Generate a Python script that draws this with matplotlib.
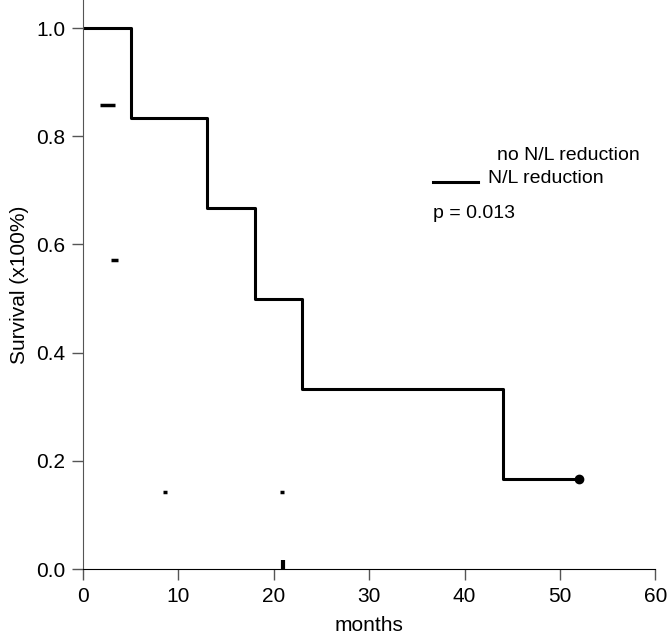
import matplotlib
matplotlib.use('Agg')
from matplotlib import pyplot as plt

plt.rcParams['font.family'] = ['Liberation Sans', 'DejaVu Sans']

# N/L reduction survival curve (step after each time)
times = [0, 5, 13, 18, 23, 44, 52]
survival = [1.0, 0.833, 0.667, 0.5, 0.333, 0.167, 0.167]

# small leftover marks of the other curve
mark_x0 = [1.8, 2.9, 8.4, 20.7]
mark_x1 = [3.3, 3.7, 8.8, 21.1]
mark_y = [0.857, 0.572, 0.143, 0.143]
vmark_x = 21.0
vmark_y = [0.0, 0.017]

xticks = [0, 10, 20, 30, 40, 50, 60]
yticks = [0.0, 0.2, 0.4, 0.6, 0.8, 1.0]

fig = plt.figure(figsize=(6.7, 6.43), dpi=100)
ax = fig.add_axes([0.124, 0.115, 0.854, 0.885])

ax.step(times, survival, where='post', color='black', linewidth=2.2)
ax.plot(times[-1], survival[-1], 'ko', markersize=6)

for a, b, y in zip(mark_x0, mark_x1, mark_y):
    ax.plot([a, b], [y, y], color='black', linewidth=2.5, solid_capstyle='butt')
ax.plot([vmark_x, vmark_x], vmark_y, color='black', linewidth=3, solid_capstyle='butt')

ax.set_xlim(0, 60)
ax.set_ylim(0, 1.052)
ax.set_xticks(xticks)
ax.set_yticks(yticks)
ax.set_xticklabels([str(t) for t in xticks])
ax.set_yticklabels([f'{t:.1f}' for t in yticks])
ax.tick_params(labelsize=15, length=8, width=1, color='#555555', direction='out', pad=5)

for s in ['top', 'right']:
    ax.spines[s].set_visible(False)
ax.spines['left'].set_color('#555555')
ax.spines['bottom'].set_color('black')

ax.set_xlabel('months', fontsize=15, labelpad=7)
ax.set_ylabel('Survival (x100%)', fontsize=15, labelpad=5)

# legend drawn by hand
ax.text(43.4, 0.765, 'no N/L reduction', fontsize=14, va='center')
ax.plot([36.7, 41.4], [0.715, 0.715], color='black', linewidth=2.2)
ax.text(42.5, 0.722, 'N/L reduction', fontsize=14, va='center')
ax.text(36.7, 0.657, 'p = 0.013', fontsize=14, va='center')

plt.savefig('out.png', dpi=100)
